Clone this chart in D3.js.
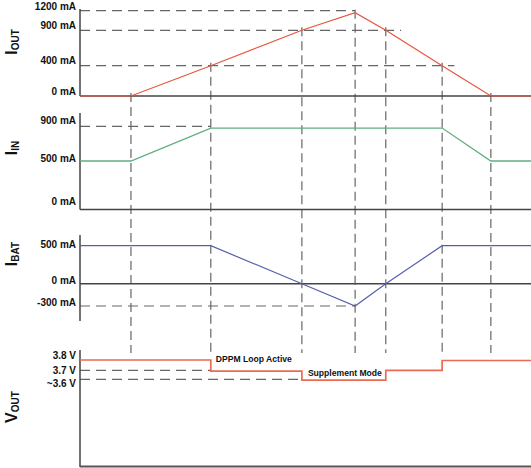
<!DOCTYPE html>
<html><head><meta charset="utf-8">
<script src="https://cdn.jsdelivr.net/npm/d3@7/dist/d3.min.js"></script>
<style>
html,body{margin:0;padding:0;background:#fff;}
svg{display:block;font-family:Arial,"Liberation Sans",sans-serif;}
</style></head>
<body><svg id="c" width="531" height="468"></svg>
<script>
// ---- data ----
const times = [0, 11.3, 29, 49.2, 61, 67.8, 80.3, 91.1, 100];
const iout  = [0, 0, 400, 900, 1170, 900, 400, 0, 0];
const iin   = [500, 500, 880, 880, 880, 880, 880, 500, 500];
const ibat  = [500, 500, 500, 0, -300, 0, 500, 500, 500];
const voutTimes = [0, 29, 49.2, 67.8, 80.3, 100];
const vout      = [3.8, 3.69, 3.59, 3.7, 3.795, 3.795];

const ioutTicks = [1200, 900, 400, 0];
const ioutTickLabels = ["1200 mA", "900 mA", "400 mA", "0 mA"];
const iinTicks = [900, 500, 0];
const iinTickLabels = ["900 mA", "500 mA", "0 mA"];
const ibatTicks = [500, 0, -300];
const ibatTickLabels = ["500 mA", "0 mA", "-300 mA"];
const voutTicks = [3.8, 3.7, 3.6];
const voutTickLabels = ["3.8 V", "3.7 V", "~3.6 V"];

const ioutGuideVals = [1200, 900, 400];
const ioutGuideEnds = [61, 71.2, 83];
const iinGuideVals = [900];
const iinGuideEnds = [29];
const ibatGuideVals = [-300];
const ibatGuideEnds = [61];
const voutGuideVals = [3.7, 3.6];
const voutGuideEnds = [29, 49.2];
const guideTimes = times.slice(1, 8);

const annotations = [{t: 29, v: 3.8, text: "DPPM Loop Active"}, {t: 49.2, v: 3.69, text: "Supplement Mode"}];

// ---- scales ----
const svg = d3.select("#c");
const x = d3.scaleLinear().domain([0, 100]).range([80, 531]);
const yOut = d3.scaleLinear().domain([0, 400, 900, 1200]).range([96, 65.7, 30.3, 10.7]);
const yIn  = d3.scaleLinear().domain([0, 500, 900]).range([205, 161, 126.3]);
const yBat = d3.scaleLinear().domain([-300, 0, 500]).range([306, 283.7, 245.7]);
const yV   = d3.scaleLinear().domain([3.6, 3.7, 3.8]).range([379.3, 370.3, 360]);

// label placement scales (label centres sit beside their levels)
const lOut = d3.scaleLinear().domain([0, 400, 900, 1200]).range([90.7, 60, 25, 5.7]);
const lIn  = d3.scaleLinear().domain([0, 500, 900]).range([200.7, 158.3, 120]);
const lBat = d3.scaleLinear().domain([-300, 0, 500]).range([301.7, 280, 244.3]);
const lV   = d3.scaleLinear().domain([3.6, 3.7, 3.8]).range([382.5, 369.5, 355]);

const axisColor = "#444";
const dashColor = "#666";

// vertical guides
const gv = svg.append("g");
guideTimes.forEach((t, i) => {
  const v = iout[i + 1];
  gv.append("line").attr("x1", x(t)).attr("x2", x(t))
    .attr("y1", yOut(v) - 3).attr("y2", 353)
    .attr("stroke", dashColor).attr("stroke-width", 1.2).attr("stroke-dasharray", "9,5");
});

function hGuides(vals, ends, y) {
  vals.forEach((v, i) => {
    svg.append("line").attr("x1", x(0)).attr("x2", x(ends[i]))
      .attr("y1", y(v)).attr("y2", y(v))
      .attr("stroke", dashColor).attr("stroke-width", 1.2).attr("stroke-dasharray", "10,6");
  });
}
hGuides(ioutGuideVals, ioutGuideEnds, yOut);
hGuides(iinGuideVals, iinGuideEnds, yIn);
hGuides(ibatGuideVals, ibatGuideEnds, yBat);
hGuides(voutGuideVals, voutGuideEnds, yV);

// axes frames
function vline(x0, y0, y1, w) {
  svg.append("line").attr("x1", x0).attr("x2", x0).attr("y1", y0).attr("y2", y1)
    .attr("stroke", axisColor).attr("stroke-width", w || 1.5);
}
function hline(y0, w, c) {
  svg.append("line").attr("x1", x(0)).attr("x2", x(100)).attr("y1", y0).attr("y2", y0)
    .attr("stroke", c || axisColor).attr("stroke-width", w || 1.5);
}
vline(x(0), 9, yOut(0));
hline(yOut(0));
vline(x(0), 113, 209.5);
hline(209.5);
vline(x(0), 235, 321);
hline(yBat(0));
vline(x(0), 350, 467);
hline(466.5, 2, "#555");

// tick labels
function ticks(scale, vals, labels) {
  const ax = d3.axisLeft(scale).tickValues(vals).tickSize(0).tickPadding(4)
    .tickFormat((d, i) => labels[i]);
  const g = svg.append("g").attr("transform", `translate(${x(0)},0)`).call(ax);
  g.select(".domain").remove();
  g.selectAll("text").attr("font-size", 10).attr("font-weight", "bold")
    .attr("font-family", "Arial, 'Liberation Sans', sans-serif").attr("fill", "#111")
    .attr("dy", "0.36em");
  return g;
}
ticks(lOut, ioutTicks, ioutTickLabels);
ticks(lIn, iinTicks, iinTickLabels);
ticks(lBat, ibatTicks, ibatTickLabels);
ticks(lV, voutTicks, voutTickLabels);

// series lines
function series(vals, y, color, w) {
  svg.append("path").datum(vals.map((v, i) => [times[i], v]))
    .attr("fill", "none").attr("stroke", color).attr("stroke-width", w)
    .attr("d", d3.line().x(d => x(d[0])).y(d => y(d[1])));
}
series(iout, yOut, "#e8543c", 1.2);
series(iin, yIn, "#5fae80", 1.3);
series(ibat, yBat, "#5660aa", 1.2);
svg.append("path").datum(vout.map((v, i) => [voutTimes[i], v]))
  .attr("fill", "none").attr("stroke", "#ec6a52").attr("stroke-width", 1.7)
  .attr("d", d3.line().curve(d3.curveStepAfter).x(d => x(d[0])).y(d => yV(d[1])));

// annotations
annotations.forEach((a, i) => {
  svg.append("text").attr("x", x(a.t) + 5 + i).attr("y", yV(a.v) + (i === 0 ? 2 : 4.5))
    .attr("font-size", 8.6).attr("font-weight", "bold").attr("fill", "#111").text(a.text);
});

// axis titles
function title(main, sub, cx, cy) {
  const t = svg.append("text").attr("transform", `translate(${cx},${cy}) rotate(-90)`)
    .attr("text-anchor", "middle").attr("fill", "#111").attr("font-weight", "bold");
  t.append("tspan").attr("font-size", 16).text(main);
  t.append("tspan").attr("font-size", 10).attr("dy", 2).text(sub);
}
title("I", "OUT", 16.5, 42);
title("I", "IN", 16.5, 148);
title("I", "BAT", 16.5, 254);
title("V", "OUT", 16.5, 407);
</script></body></html>
